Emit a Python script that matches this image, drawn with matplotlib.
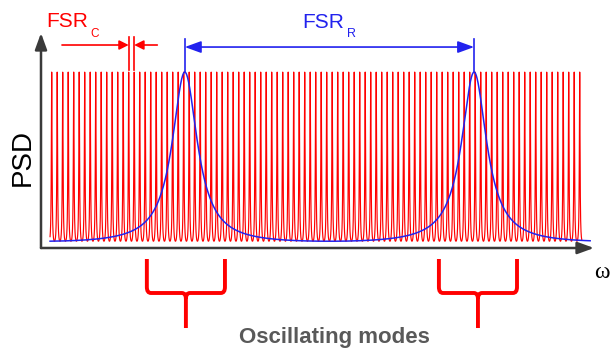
import numpy as np
import matplotlib.pyplot as plt
from matplotlib.path import Path
from matplotlib.patches import PathPatch

# Cavity comb (red) and ring resonances (blue), frequency in units of FSR_C
fsr_c = 1.0
n_cavity_modes = 97
cavity_finesse = 18.0
fsr_r = 52.6
ring_peaks = [24.2, 76.8]
ring_finesse = 36.0
brace_centers = [24.4, 77.5]
brace_half_width = 7.1

red = "#ff0000"
blue = "#2222ee"

W, H = 616, 351
fig = plt.figure(figsize=(W / 100, H / 100), dpi=100)
plt.rcParams["font.family"] = ["Liberation Sans", "DejaVu Sans"]

# plot region in pixels: x 41..594, y 33..248
ax = fig.add_axes([41 / W, (H - 248) / H, (594 - 41) / W, (248 - 33) / H])
ax.set_xlim(-1.945, 98.6)
ax.set_ylim(-0.04, 1.231)
ax.axis("off")


def airy(w, center, period, f):
    s = np.sin(np.pi * (w - center) / period) ** 2
    y = 1.0 / (1.0 + f * s)
    ymin = 1.0 / (1.0 + f)
    return (y - ymin) / (1.0 - ymin)


w_red = np.linspace(-0.3, (n_cavity_modes - 1) * fsr_c + 0.4, 30000)
psd_red = airy(w_red, 0.0, fsr_c, cavity_finesse)
ax.plot(w_red, psd_red, color=red, lw=0.85, zorder=2)

w_blue = np.linspace(-0.3, 97.9, 4000)
psd_blue = airy(w_blue, ring_peaks[0], fsr_r, ring_finesse)
ax.plot(w_blue, psd_blue, color=blue, lw=1.1, zorder=3)

# axes with arrow heads
ax_arrow = dict(arrowstyle="-|>,head_length=0.55,head_width=0.2",
                mutation_scale=18, color="#3a3a3a", lw=1.8,
                shrinkA=0, shrinkB=0)
ax.annotate("", xy=(0, 1), xytext=(0, 0), xycoords="axes fraction",
            arrowprops=ax_arrow)
ax.annotate("", xy=(1, 0), xytext=(0, 0), xycoords="axes fraction",
            arrowprops=ax_arrow)

# FSR_C marker
k0 = 14
ax.plot([k0, k0], [1.012, 1.207], color=red, lw=1.2, clip_on=False)
ax.plot([k0 + fsr_c, k0 + fsr_c], [1.012, 1.207], color=red, lw=1.2,
        clip_on=False)
head = dict(arrowstyle="-|>,head_length=0.4,head_width=0.2",
            mutation_scale=14, color=red, lw=1.2, shrinkA=0, shrinkB=0)
ax.annotate("", xy=(k0, 1.16), xytext=(1.87, 1.16), arrowprops=head)
ax.annotate("", xy=(k0 + fsr_c, 1.16), xytext=(19.2, 1.16), arrowprops=head)

# FSR_R marker
for p in ring_peaks:
    ax.plot([p, p], [1.0, 1.195], color=blue, lw=1.2, clip_on=False)
ax.annotate("", xy=(ring_peaks[1], 1.148), xytext=(ring_peaks[0], 1.148),
            arrowprops=dict(arrowstyle="<|-|>,head_length=0.55,head_width=0.2",
                            mutation_scale=18, color=blue, lw=1.2,
                            shrinkA=0, shrinkB=0))

# curly braces under the two ring resonances
top, hy, bottom = -0.105, -0.306, -0.513
rx, ry = 0.75, 0.035
for c in brace_centers:
    x0, x1 = c - brace_half_width, c + brace_half_width
    verts = [(x0, top), (x0, hy + ry), (x0, hy), (x0 + rx, hy),
             (c - rx, hy), (c, hy), (c, hy - ry), (c, bottom),
             (x1, top), (x1, hy + ry), (x1, hy), (x1 - rx, hy),
             (c + rx, hy), (c, hy), (c, hy - ry)]
    codes = [Path.MOVETO, Path.LINETO, Path.CURVE3, Path.CURVE3,
             Path.LINETO, Path.CURVE3, Path.CURVE3, Path.LINETO,
             Path.MOVETO, Path.LINETO, Path.CURVE3, Path.CURVE3,
             Path.LINETO, Path.CURVE3, Path.CURVE3]
    ax.add_patch(PathPatch(Path(verts, codes), fill=False, edgecolor=red,
                           lw=2.8, capstyle="butt", clip_on=False))


def px(x, y):
    return x / W, 1 - y / H


fig.text(*px(23, 158), "PSD", rotation=90, fontsize=20, ha="center",
         va="center", color="black")
fig.text(*px(602, 272), "ω", fontsize=17, family="Liberation Serif",
         ha="center", va="center", color="black")
fig.text(*px(46, 27), "FSR", fontsize=15, color=red, va="baseline")
fig.text(*px(90.5, 37), "C", fontsize=8.5, color=red, va="baseline")
fig.text(*px(302, 28), "FSR", fontsize=15, color=blue, va="baseline")
fig.text(*px(346.5, 37), "R", fontsize=9, color=blue, va="baseline")
fig.text(*px(334, 343), "Oscillating modes", fontsize=16, fontweight="bold",
         color="#595959", ha="center", va="baseline")

fig.savefig("out.png", dpi=100)
